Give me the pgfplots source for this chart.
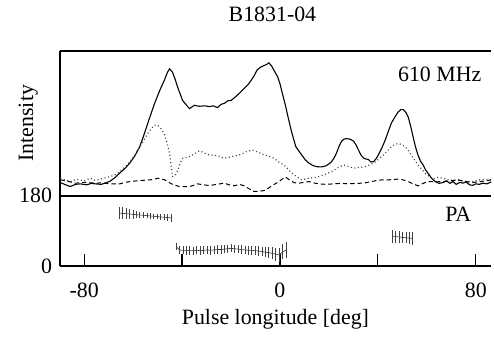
\documentclass[border=0pt]{standalone}
\usepackage{fontspec}
\setmainfont{Liberation Serif}
\usepackage{pgfplots}
\usepackage{pgfplotstable}
\pgfplotsset{compat=1.18}

\pgfplotstableread{
x y
-89.7 13.3
-87.5 11.0
-85.7 9.3
-83.5 11.5
-81.6 12.0
-79.0 11.0
-77.0 12.5
-75.5 12.0
-73.0 11.5
-71.5 12.7
-69.5 14.5
-67.4 18.3
-65.4 23.0
-63.3 27.5
-61.3 33.0
-59.3 40.0
-57.3 49.3
-55.6 61.0
-54.0 73.0
-52.6 83.0
-51.2 93.0
-49.1 106.0
-47.1 117.0
-46.0 124.0
-45.1 127.7
-43.9 124.3
-42.8 117.0
-41.8 109.3
-39.8 96.0
-37.0 87.7
-34.9 91.0
-32.9 90.0
-30.8 90.5
-28.8 89.7
-27.2 90.5
-25.6 88.7
-24.0 92.0
-22.7 93.0
-21.3 95.5
-19.9 96.0
-18.2 99.5
-16.6 103.0
-14.6 108.0
-13.0 112.0
-11.8 116.0
-10.5 121.0
-9.3 126.7
-7.8 129.5
-6.5 131.0
-5.5 132.0
-4.5 133.7
-3.4 130.5
-2.4 126.0
-1.0 120.0
0.0 112.7
1.2 101.0
2.4 89.3
3.6 76.0
4.9 63.0
6.5 49.3
8.9 41.0
10.4 36.0
11.8 33.0
13.4 30.5
15.0 29.3
16.9 29.0
18.7 30.0
20.0 32.0
21.1 34.3
22.1 38.0
23.1 43.0
24.2 50.0
25.2 55.0
26.2 57.0
27.2 57.5
28.6 57.0
30.1 55.0
31.1 51.0
32.1 46.0
33.1 41.0
34.1 38.0
35.1 37.0
36.1 36.5
37.2 34.0
38.2 34.3
39.2 37.0
40.2 41.0
41.6 48.0
43.0 56.0
44.3 65.0
45.5 73.0
46.9 79.0
48.3 84.3
49.4 86.7
50.4 86.7
51.4 84.0
52.4 79.3
53.4 70.0
54.4 59.3
55.4 49.0
56.4 41.0
57.4 35.0
58.5 31.0
59.5 26.0
60.5 22.7
62.0 17.5
63.4 14.3
65.0 12.5
66.6 13.3
68.0 15.0
69.5 12.5
70.7 14.3
72.0 11.5
73.5 13.5
74.7 12.7
76.0 14.0
77.5 11.0
78.8 10.5
80.0 12.0
81.5 11.5
82.8 12.7
84.5 12.0
86.3 14.0
}\totI

\pgfplotstableread{
x y
-89.7 17.7
-87.5 15.5
-85.7 14.3
-83.0 16.5
-80.0 15.0
-77.6 17.7
-75.5 15.5
-73.5 16.7
-71.5 18.0
-69.4 19.3
-67.4 21.0
-65.4 24.3
-63.3 29.0
-61.3 34.3
-59.3 41.0
-57.3 49.3
-55.6 56.0
-54.0 62.7
-52.6 67.5
-51.2 71.0
-50.1 71.0
-49.1 69.3
-48.1 66.0
-47.1 61.0
-46.1 53.0
-45.1 42.7
-44.4 30.0
-43.9 19.3
-43.0 20.0
-42.2 23.0
-41.0 31.0
-39.8 37.7
-38.4 38.5
-37.0 39.3
-35.0 42.0
-32.9 45.3
-30.8 43.0
-28.8 41.0
-25.7 40.5
-22.7 37.7
-19.6 39.5
-16.6 41.0
-13.8 44.3
-11.4 46.0
-9.0 44.0
-6.5 41.0
-4.5 40.0
-2.4 37.7
-0.5 34.0
1.6 31.0
3.3 27.0
4.9 22.7
6.9 19.0
8.9 16.0
11.8 17.7
13.8 18.0
15.8 19.3
18.5 21.5
21.1 24.3
23.5 28.0
26.0 31.0
28.0 29.5
30.1 27.7
32.1 28.5
34.1 28.7
36.1 30.5
38.2 32.7
40.2 36.5
42.2 41.0
43.9 45.0
45.5 49.3
46.9 51.5
48.3 52.7
49.8 51.5
51.2 49.3
52.4 45.5
53.6 41.0
55.0 36.0
56.4 31.0
57.8 27.0
59.3 22.7
60.9 19.5
62.5 16.7
64.5 18.5
66.6 17.7
69.5 15.5
72.7 16.0
75.8 14.0
78.8 14.3
82.5 16.5
86.3 16.0
}\linP

\pgfplotstableread{
x y
-89.7 16.0
-86.5 14.5
-83.7 12.7
-79.5 13.5
-75.5 12.7
-72.5 13.0
-69.4 12.0
-65.4 12.0
-63.3 13.5
-61.3 14.3
-57.3 15.3
-53.2 16.0
-51.5 16.5
-49.9 17.7
-48.5 17.0
-47.1 16.0
-45.7 14.0
-44.3 12.0
-42.7 10.5
-41.0 9.3
-37.0 9.3
-35.3 10.5
-33.7 12.0
-31.2 11.0
-28.8 10.3
-25.8 11.5
-22.7 12.7
-20.7 11.0
-18.7 10.0
-16.6 11.5
-14.6 10.0
-12.6 7.0
-10.6 4.3
-8.5 4.5
-6.5 5.3
-5.1 7.0
-3.7 9.3
-2.0 12.0
-0.4 14.3
1.0 17.0
2.4 18.7
3.6 16.5
4.9 14.3
6.3 13.0
7.7 12.7
9.8 13.5
11.8 14.3
13.8 13.0
15.8 12.0
18.8 11.5
21.9 12.0
25.0 12.5
28.0 12.0
31.0 12.5
34.1 12.7
36.8 14.0
39.4 15.3
41.8 16.0
44.3 16.0
46.3 16.5
48.3 16.7
50.4 16.0
52.4 14.3
54.4 12.0
56.4 10.0
58.5 12.5
60.5 14.3
63.5 14.0
66.6 14.3
69.6 15.0
72.7 16.0
75.7 14.5
78.8 13.3
82.5 14.5
86.3 16.0
}\circV

\pgfplotstableread{
x y e
-65.6 136.0 11.5
-64.2 135.2 11.0
-62.8 134.3 10.0
-61.4 133.5 9.0
-60.0 132.7 7.0
-58.6 131.8 5.0
-57.2 131.0 4.0
-55.8 130.2 3.0
-54.3 129.4 3.0
-52.9 128.5 2.5
-51.5 127.7 2.5
-50.1 126.9 2.5
-48.7 126.0 3.0
-47.3 125.2 3.5
-45.9 124.4 4.0
-44.5 123.5 6.0
}\paA

\pgfplotstableread{
x y e
-42.4 50.0 5.0
-41.0 42.0 5.0
-39.6 41.0 6.0
-38.2 41.0 7.0
-36.8 40.0 7.0
-35.4 40.0 6.0
-34.0 41.0 6.0
-32.5 40.0 7.0
-31.1 41.0 6.0
-29.7 42.0 6.0
-28.3 41.0 7.0
-26.9 42.0 6.0
-25.5 43.0 6.0
-24.1 43.0 6.0
-22.7 44.0 6.0
-21.3 45.0 6.0
-19.9 46.0 6.0
-18.5 45.0 6.0
-17.1 44.0 6.0
-15.7 43.0 6.0
-14.3 42.0 6.0
-12.9 41.0 7.0
-11.5 41.0 7.0
-10.1 40.0 7.0
-8.7 39.0 8.0
-7.3 38.0 8.0
-5.9 36.0 9.0
-4.5 35.0 10.0
-3.1 33.0 11.0
-1.7 31.0 12.0
-0.3 29.0 13.0
1.1 37.0 15.0
2.5 41.0 16.0
}\paB

\pgfplotstableread{
x y e
45.9 76.0 12.0
47.3 76.0 11.0
48.7 75.0 10.0
50.1 74.0 9.0
51.5 73.0 10.0
52.9 72.0 11.0
54.3 71.0 12.0
}\paC

\pgfplotsset{
  pabars/.style={black!80, line width=0.3pt, mark=none, forget plot,
    error bars/.cd, y dir=both, y explicit, error mark=-,
    error bar style={black!75, line width=0.45pt},
    error mark options={black!75, mark size=0.85pt, line width=0.45pt}},
}

\begin{document}
\fontsize{11}{13}\selectfont
\begin{tikzpicture}
\begin{axis}[
  name=top,
  scale only axis,
  width=217pt, height=73pt,
  xmin=-90, xmax=86.3, ymin=0, ymax=146,
  axis x line*=box, axis y line*=left,
  axis line style={line width=1pt},
  xtick=\empty, ytick=\empty,
  title={B1831-04},
  title style={at={(axis description cs:0.5,1)}, anchor=south, yshift=4.5pt, xshift=-1.5pt, font=\fontsize{11}{13}\selectfont},
  ylabel={Intensity},
  ylabel style={at={(axis description cs:-0.033,0.5)}, anchor=south, font=\fontsize{11}{13}\selectfont},
  clip=false,
]
\addplot[black, line width=0.55pt] table[x=x,y=y] {\totI};
\addplot[black!75, line width=0.6pt, dash pattern=on 0.5pt off 1.3pt] table[x=x,y=y] {\linP};
\addplot[black, line width=0.5pt, dash pattern=on 2.2pt off 1.5pt] table[x=x,y=y] {\circV};
\node[anchor=east, font=\fontsize{11}{13}\selectfont] at (axis cs:85.4,122) {610 MHz};
\end{axis}
\begin{axis}[
  at={(top.south west)}, anchor=north west,
  scale only axis,
  width=217pt, height=35.5pt,
  xmin=-90, xmax=86.3, ymin=0, ymax=180,
  axis x line*=box, axis y line*=left,
  axis line style={line width=1pt},
  xtick={-80,-40,0,40,80},
  xticklabels={-80,,0,,80},
  xtick pos=bottom,
  xtick align=inside,
  major tick length=6pt,
  xtick style={line width=0.6pt, black},
  ytick={0,180},
  yticklabels={0,180},
  ytick style={draw=none},
  yticklabel style={xshift=0pt, font=\fontsize{11}{13}\selectfont},
  xticklabel style={yshift=-4.5pt, font=\fontsize{11}{13}\selectfont},
  xlabel={Pulse longitude [deg]},
  xlabel style={yshift=1.5pt, font=\fontsize{11}{13}\selectfont},
  clip=false,
]
\addplot[pabars] table[x=x,y=y,y error=e] {\paA};
\addplot[pabars] table[x=x,y=y,y error=e] {\paB};
\addplot[pabars] table[x=x,y=y,y error=e] {\paC};
\node[anchor=east, font=\fontsize{11}{13}\selectfont] at (axis cs:81.3,134) {PA};
\end{axis}
\path ([xshift=-30pt]top.south west);
\end{tikzpicture}
\end{document}
